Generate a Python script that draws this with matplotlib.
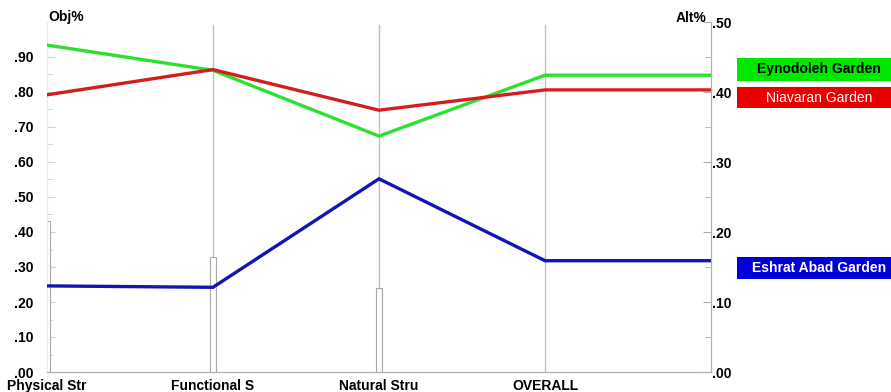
import matplotlib
matplotlib.use("Agg")
import matplotlib.pyplot as plt
from matplotlib.patches import Rectangle
from matplotlib.ticker import FuncFormatter, MultipleLocator, FixedLocator

plt.rcParams['font.family'] = ['Liberation Sans', 'DejaVu Sans']

criteria = ["Physical Str", "Functional S", "Natural Stru", "OVERALL"]
obj_weights = [0.43, 0.33, 0.24]          # Obj% bars for the three criteria
alternatives = ["Eynodoleh Garden", "Niavaran Garden", "Eshrat Abad Garden"]
eynodoleh = [0.467, 0.431, 0.337, 0.424]
niavaran = [0.396, 0.432, 0.374, 0.403]
eshrat = [0.123, 0.121, 0.276, 0.159]
left_ticks = [0.0, 0.1, 0.2, 0.3, 0.4, 0.5, 0.6, 0.7, 0.8, 0.9]

line_colors = ['#2ee02e', '#d41e1e', '#1414b4']
box_colors = ['#00e800', '#e80000', '#0000d8']
text_colors = ['black', 'white', 'white']
text_weights = ['bold', 'normal', 'bold']

fig = plt.figure(figsize=(8.91, 3.92), dpi=100)
ax = fig.add_axes([47/891, 20/392, (711-47)/891, (372-22)/392])
ax2 = ax.twinx()

# Left axis Obj%
ax.set_xlim(0, 4)
ax.set_ylim(0, 1.0)
ax.yaxis.set_major_locator(FixedLocator(left_ticks))
ax.yaxis.set_minor_locator(FixedLocator([t + 0.05 for t in left_ticks[:-1]]))
ax.yaxis.set_major_formatter(FuncFormatter(lambda v, p: ("%.2f" % v).lstrip('0')))
ax.tick_params(axis='y', which='both', direction='in', color='#d0d0d0', length=6,
               labelsize=10, pad=10)
ax.tick_params(axis='y', which='minor', length=4)
for t in ax.get_yticklabels():
    t.set_fontweight('bold')
ax.set_xticks(range(len(criteria)))
ax.set_xticklabels(criteria, fontsize=10, fontweight='bold')
ax.tick_params(axis='x', length=0, pad=5)

# Right axis Alt%
ax2.set_ylim(0, 0.5)
ax2.yaxis.set_major_locator(MultipleLocator(0.1))
ax2.yaxis.set_minor_locator(MultipleLocator(0.05))
ax2.yaxis.set_major_formatter(FuncFormatter(lambda v, p: ("%.2f" % v).lstrip('0')))
ax2.tick_params(axis='y', which='both', direction='in', color='#b0b0b0', length=6,
                labelsize=10, pad=1)
ax2.tick_params(axis='y', which='minor', length=4)
for t in ax2.get_yticklabels():
    t.set_fontweight('bold')

for a in (ax, ax2):
    a.spines['top'].set_visible(False)
    a.spines['bottom'].set_color('#b0b0b0')
    a.spines['left'].set_color('#ececec')
    a.spines['right'].set_color('#b0b0b0')

# Vertical criterion lines
for i in range(1, len(criteria)):
    ax.plot([i, i], [0, 0.99], color='#c0c0c0', lw=1, zorder=1)

# Objective weight bars
ax.bar(range(len(obj_weights)), obj_weights, width=0.042, facecolor='white',
       edgecolor='#a8a8a8', lw=0.8, zorder=2)

# Alternative lines (extend flat to right end)
xs = list(range(len(criteria))) + [4]
for vals, c in zip([eynodoleh, niavaran, eshrat], line_colors):
    ax2.plot(xs, vals + [vals[-1]], color=c, lw=2.4, zorder=3, solid_joinstyle='miter')

fig.text(48/891, 1 - 17/392, "Obj%", fontsize=10, fontweight='bold', va='center', ha='left')
fig.text(707/891, 1 - 18/392, "Alt%", fontsize=10, fontweight='bold', va='center', ha='right')

# Label boxes
boxes = [(58, 81), (87, 108), (257, 279)]
for (y0, y1), name, bc, tc, tw in zip(boxes, alternatives, box_colors, text_colors, text_weights):
    fig.patches.append(Rectangle((737/891, 1 - y1/392), (891-737)/891, (y1-y0)/392,
                                 transform=fig.transFigure, facecolor=bc, edgecolor='none'))
    fig.text(819/891, 1 - (y0 + y1)/2/392, name, fontsize=10, fontweight=tw, color=tc,
             ha='center', va='center')

fig.savefig("out.png", dpi=100)
